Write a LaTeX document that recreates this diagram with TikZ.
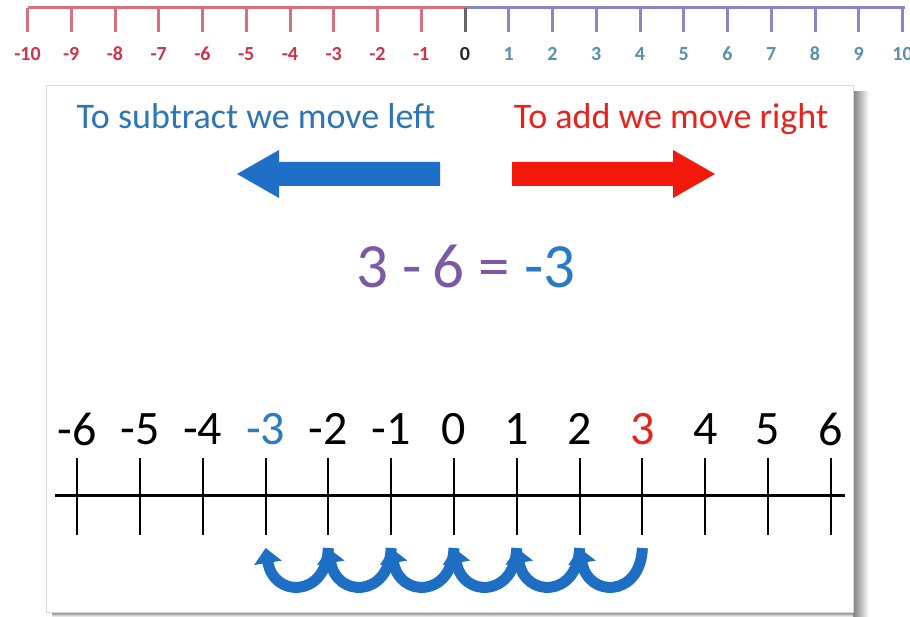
\documentclass[tikz,border=0pt]{standalone}
\usepackage{fontspec}
\setmainfont{Carlito}
\usetikzlibrary{arrows.meta,calc}
\definecolor{rulred}{HTML}{D9707E}
\definecolor{rulblue}{HTML}{8A86C8}
\definecolor{labred}{HTML}{D0344A}
\definecolor{labblue}{HTML}{5A90AC}
\definecolor{txtblue}{HTML}{2E75B6}
\definecolor{txtred}{HTML}{E8231C}
\definecolor{arrblue}{HTML}{1F6FC8}
\definecolor{arrred}{HTML}{F2190A}
\definecolor{eqpurple}{HTML}{7A5AA2}
\definecolor{eqblue}{HTML}{2A7AC8}
\definecolor{jumpblue}{HTML}{1E6FC4}
\tikzset{
  rulerlabel/.style={font=\fontsize{20}{20}\selectfont\bfseries, inner sep=0pt},
  headtext/.style={font=\fontsize{36}{36}\selectfont, inner sep=0pt, anchor=base},
  numlabel/.style={font=\fontsize{48}{48}\selectfont, inner sep=0pt},
  tickline/.style={line width=2pt, black},
  jump/.style={line width=11pt, jumpblue, -{Triangle[width=27pt,length=15pt]}},
}
\begin{document}
\begin{tikzpicture}[x=1pt,y=-1pt]
\useasboundingbox (0,0) rectangle (910,617);
\fill[white] (0,0) rectangle (910,617);
% top ruler
\draw[rulred, line width=3pt] (28,8) -- (465,8);
\draw[rulblue, line width=3pt] (465,8) -- (905,8);
\foreach \i in {-10,...,10} {
  \pgfmathsetmacro{\xx}{465+43.75*\i}
  \ifnum\i<0
    \draw[rulred, line width=3pt] (\xx,8) -- (\xx,32);
    \node[rulerlabel, text=labred] (r\i) at (\xx,54) {\i};
  \else\ifnum\i=0
    \draw[gray!80!black, line width=3pt] (\xx,8) -- (\xx,32);
    \node[rulerlabel, text=black!85] (r\i) at (\xx,54) {\i};
  \else
    \draw[rulblue, line width=3pt] (\xx,8) -- (\xx,32);
    \node[rulerlabel, text=labblue] (r\i) at (\xx,54) {\i};
  \fi\fi
}
% card with shadow
\shade[left color=black!50, right color=white] (853,92) rectangle (869,617);
\shade[top color=black!50, bottom color=white] (52,612) rectangle (853,617);
\draw[black!15, fill=white] (46,85) rectangle (853,612);
% heading texts
\node[headtext, text=txtblue] (sub) at (256,129) {To subtract we move left};
\node[headtext, text=txtred] (add) at (671,129) {To add we move right};
% big arrows
\fill[arrblue] (237,174) -- (279,150) -- (279,162) -- (440,162) -- (440,186) -- (279,186) -- (279,198) -- cycle;
\fill[arrred] (715,174) -- (673,150) -- (673,162) -- (512,162) -- (512,186) -- (673,186) -- (673,198) -- cycle;
% equation
\node[font=\fontsize{63}{63}\selectfont, inner sep=0pt] (eq) at (466,266)
  {\textcolor{eqpurple}{3 -\,6 = }\textcolor{eqblue}{-3}};
% number line
\draw[line width=3pt] (55,495) coordinate (lineL) -- (845,495) coordinate (lineR);
\foreach \i in {-6,...,6} {
  \pgfmathsetmacro{\xx}{454+62.8*\i}
  \draw[tickline] (\xx,458) -- (\xx,535);
  \coordinate (t\i) at (\xx,548);
}
\foreach \i/\c in {-6/black,-5/black,-4/black,-3/eqblue,-2/black,-1/black,0/black,1/black,2/black,3/txtred,4/black,5/black,6/black} {
  \pgfmathsetmacro{\xx}{454+62.8*\i}
  \node[numlabel, text=\c] (n\i) at (\xx,429) {\i};
}
% jumps
\foreach \a/\b in {3/2,2/1,1/0,0/-1,-1/-2,-2/-3} {
  \draw[jump] (t\a) .. controls ($(t\a)+(-2,50)$) and ($(t\b)+(8,50)$) .. (t\b);
}
\end{tikzpicture}
\end{document}
